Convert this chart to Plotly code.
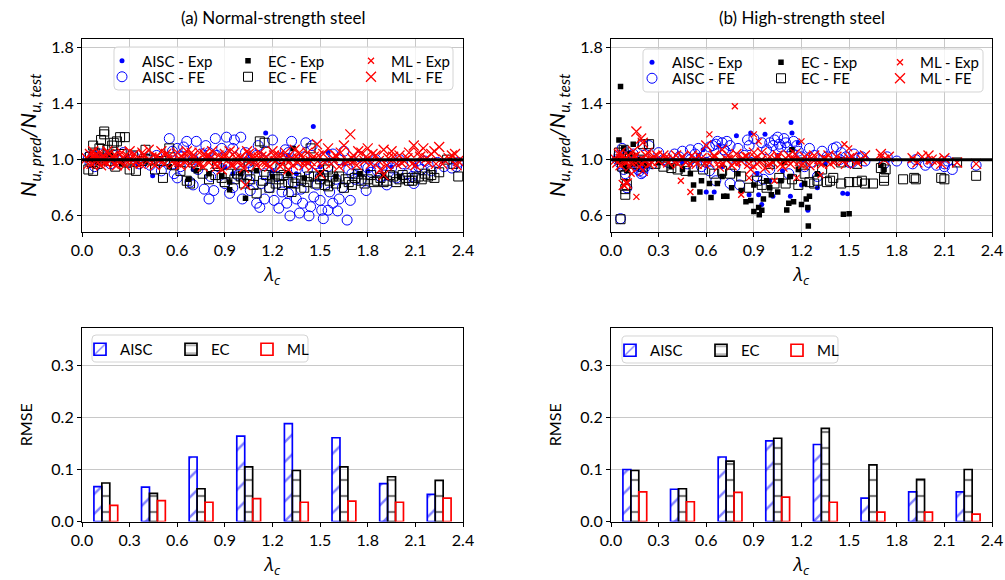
import plotly.graph_objects as go

# ---------------- DATA ----------------
# (a) Normal-strength steel: (lambda_c, Nu_pred/Nu_test)
NS_AISC_EXP = [(0.05,1.01),(0.1,0.99),(0.15,1.03),(0.2,0.98),(0.28,1.02),(0.35,0.97),(0.445,0.885),(0.5,1.0),
               (0.6,0.96),(0.7,0.93),(0.8,1.02),(0.9,0.95),(0.95,0.9),(1.05,1.04),(1.157,1.19),(1.2,0.92),
               (1.3,1.03),(1.35,0.9),(1.457,1.235),(1.5,0.95),(1.55,1.05),(1.65,0.97),(1.8,0.92),(1.95,0.95),(2.1,0.96)]
NS_AISC_FE = [(0.04,1.02),(0.05,0.98),(0.07,1.03),(0.08,0.95),(0.1,1.0),(0.12,1.04),(0.15,1.01),(0.18,0.97),(0.2,1.03),
              (0.23,1.0),(0.26,1.05),(0.3,0.98),(0.33,1.02),(0.36,0.97),(0.4,1.01),(0.43,0.96),(0.47,1.03),(0.5,0.92),
              (0.52,0.99),(0.55,1.15),(0.57,1.06),(0.58,0.9),(0.6,0.87),(0.62,0.95),(0.64,1.09),(0.66,1.13),(0.68,0.84),
              (0.7,0.82),(0.72,1.13),(0.73,0.93),(0.75,1.04),(0.77,0.79),(0.78,1.1),(0.8,0.72),(0.81,0.88),(0.83,0.78),
              (0.84,1.15),(0.86,0.95),(0.88,1.08),(0.9,0.83),(0.91,1.16),(0.93,0.76),(0.95,0.8),(0.96,1.14),(0.98,0.89),
              (1.0,1.16),(1.01,0.72),(1.03,1.05),(1.05,0.85),(1.06,0.78),(1.08,0.94),(1.1,0.69),(1.11,1.1),(1.12,0.66),
              (1.13,0.83),(1.15,0.72),(1.16,1.06),(1.18,0.8),(1.2,1.14),(1.21,0.71),(1.23,0.88),(1.24,0.655),(1.26,0.77),
              (1.28,1.07),(1.29,0.69),(1.3,0.76),(1.31,0.6),(1.32,1.13),(1.33,0.84),(1.35,0.72),(1.37,0.62),(1.38,0.79),
              (1.39,0.69),(1.41,1.12),(1.42,0.93),(1.43,0.6),(1.44,0.665),(1.45,1.1),(1.46,0.735),(1.48,0.82),(1.5,0.71),
              (1.51,0.64),(1.52,0.58),(1.53,1.02),(1.55,0.64),(1.56,0.77),(1.58,0.69),(1.6,0.86),(1.61,0.635),(1.62,0.72),
              (1.64,0.8),(1.65,1.06),(1.67,0.57),(1.69,0.71),(1.7,0.9),(1.73,0.96),(1.76,0.86),(1.79,0.78),(1.82,0.91),
              (1.85,1.0),(1.88,0.88),(1.92,0.82),(1.95,0.94),(1.98,0.87),(2.02,0.97),(2.05,0.9),(2.09,0.83),(2.12,0.95),
              (2.16,0.99),(2.2,0.92),(2.24,0.98),(2.33,0.94),(2.36,0.95),(2.37,0.98),(0.62,1.02),(0.85,1.03),(1.05,0.98),
              (1.25,1.01),(1.47,0.97),(1.58,1.04),(1.75,1.02),(1.9,0.96),(2.0,1.0),
              (0.6,1.08),(0.7,1.0),(0.8,1.05),(0.9,0.97),(0.95,1.08),(1.0,0.92),(1.1,1.03),(1.15,0.9),(1.2,0.97),
              (1.3,1.05),(1.35,0.93),(1.4,1.02),(1.5,0.88),(1.55,0.95),(1.62,1.0),(1.68,0.93),(1.72,0.86),(1.8,0.94),
              (1.86,0.92),(2.08,0.88),(2.14,0.93),(2.28,0.95)]
NS_EC_EXP = [(0.06,1.0),(0.1,0.98),(0.18,1.04),(0.25,0.97),(0.4,0.99),(0.55,0.95),(0.67,0.86),(0.72,0.92),(0.8,0.9),
             (0.88,0.88),(0.93,0.84),(0.93,0.785),(1.0,0.9),(1.03,0.725),(1.1,0.92),(1.2,0.88),(1.33,1.08),(1.3,0.9),
             (1.4,0.87),(1.5,0.9),(1.6,0.88),(1.75,0.9),(1.9,0.89),(2.0,0.88)]
NS_EC_FE = [(0.04,0.93),(0.05,1.02),(0.06,0.98),(0.07,0.92),(0.07,1.1),(0.08,1.05),(0.1,0.97),(0.11,1.08),(0.12,1.14),
            (0.13,1.0),(0.14,1.2),(0.14,1.18),(0.16,1.07),(0.17,0.99),(0.19,1.1),(0.2,1.12),(0.21,0.95),(0.22,1.13),
            (0.24,1.16),(0.25,1.04),(0.27,1.16),(0.28,0.98),(0.3,0.93),(0.32,1.03),(0.34,0.92),(0.38,0.99),(0.4,1.07),
            (0.43,1.0),(0.46,0.93),(0.5,0.99),(0.51,0.87),(0.55,1.08),(0.58,0.96),(0.62,0.92),(0.66,0.85),(0.68,0.83),
            (0.72,0.95),(0.76,0.9),(0.8,0.86),(0.84,0.89),(0.88,0.87),(0.92,0.9),(0.96,0.86),(1.0,0.88),(1.02,0.83),
            (1.06,0.86),(1.1,0.76),(1.12,1.13),(1.14,0.85),(1.15,1.12),(1.18,0.8),(1.2,0.88),(1.24,0.86),(1.27,0.89),
            (1.3,0.84),(1.32,0.77),(1.35,0.87),(1.38,0.85),(1.4,0.8),(1.43,0.88),(1.44,1.08),(1.47,0.83),(1.5,0.86),
            (1.53,0.82),(1.56,0.85),(1.6,0.83),(1.62,0.88),(1.65,0.8),(1.68,0.84),(1.72,0.87),(1.76,0.85),(1.8,0.86),
            (1.84,0.84),(1.88,0.87),(1.92,0.85),(1.96,0.88),(2.0,0.86),(2.04,0.87),(2.08,0.85),(2.12,0.88),(2.16,0.9),
            (2.2,0.89),(2.25,0.91),(2.3,1.0),(2.37,0.88),(2.34,0.97),
            (0.9,0.84),(0.98,0.9),(1.04,0.89),(1.08,0.82),(1.16,0.89),(1.22,0.83),(1.26,0.82),(1.34,0.83),(1.42,0.84),
            (1.46,0.88),(1.52,0.89),(1.55,0.81),(1.58,0.88),(1.66,0.86),(1.7,0.82),(1.74,0.9),(1.78,0.83),(1.82,0.89),
            (1.86,0.85),(1.9,0.84),(1.94,0.89),(1.98,0.84),(2.02,0.89),(2.06,0.85),(2.1,0.87),(2.14,0.86),(2.18,0.88),
            (2.22,0.87),(0.7,0.98),(0.85,0.97),(1.05,0.95),(1.25,0.94),(1.55,0.93)]
NS_ML_EXP = [(0.04,1.0),(0.07,1.03),(0.1,0.98),(0.13,1.02),(0.16,0.97),(0.2,1.01),(0.24,1.04),(0.28,0.99),(0.32,1.02),
             (0.36,0.96),(0.4,1.0),(0.45,1.03),(0.5,0.98),(0.55,1.01),(0.6,0.97),(0.65,1.04),(0.7,1.0),(0.75,0.97),
             (0.8,1.03),(0.85,0.99),(0.9,1.02),(0.95,0.96),(1.0,1.01),(1.05,0.98),(1.1,1.03),(1.15,0.97),(1.2,1.0),
             (1.25,1.04),(1.3,0.98),(1.35,1.02),(1.4,0.99),(1.45,1.01),(1.5,0.97),(1.6,1.02),(1.7,0.98),(1.8,1.0)]
NS_ML_FE = [(0.03,1.01),(0.05,1.04),(0.06,0.97),(0.08,1.03),(0.09,0.99),(0.11,1.05),(0.12,0.96),(0.14,1.02),(0.15,0.98),
            (0.17,1.04),(0.18,1.0),(0.2,0.97),(0.21,1.03),(0.23,0.99),(0.25,1.05),(0.27,0.96),(0.29,1.02),(0.31,0.98),
            (0.33,1.04),(0.35,1.0),(0.37,0.97),(0.39,1.03),(0.42,1.07),(0.44,0.98),(0.47,1.02),(0.5,1.06),(0.52,0.97),
            (0.55,1.03),(0.57,0.99),(0.6,1.05),(0.62,0.96),(0.64,1.01),(0.66,1.06),(0.68,0.97),(0.7,1.03),(0.72,0.99),
            (0.74,1.05),(0.76,0.95),(0.78,1.02),(0.8,0.98),(0.82,1.06),(0.84,0.97),(0.86,1.03),(0.88,0.93),(0.9,1.04),
            (0.92,1.0),(0.94,0.96),(0.96,1.05),(0.98,0.98),(1.0,1.02),(1.02,0.94),(1.03,0.82),(1.04,1.06),(1.06,0.99),
            (1.08,1.03),(1.1,0.96),(1.12,1.05),(1.14,0.98),(1.16,1.02),(1.18,0.95),(1.2,1.06),(1.22,0.99),(1.24,1.03),
            (1.26,0.97),(1.28,1.05),(1.3,0.93),(1.32,1.01),(1.34,1.07),(1.36,0.98),(1.38,1.03),(1.4,0.96),(1.42,1.05),
            (1.44,0.99),(1.46,1.02),(1.48,1.11),(1.5,0.9),(1.52,1.04),(1.55,1.08),(1.57,0.97),(1.6,1.03),(1.62,0.95),
            (1.65,1.1),(1.67,0.99),(1.69,1.18),(1.71,1.03),(1.73,0.96),(1.76,1.05),(1.78,0.99),(1.8,1.08),(1.82,0.97),
            (1.85,1.03),(1.88,0.93),(1.9,1.07),(1.9,0.89),(1.93,1.01),(1.95,1.06),(1.98,0.97),(2.0,1.03),(2.03,0.99),
            (2.06,1.05),(2.09,1.1),(2.1,0.96),(2.13,1.02),(2.15,1.08),(2.18,0.98),(2.2,1.04),(2.23,0.97),(2.25,1.09),
            (2.28,1.0),(2.33,1.03),(2.35,1.04),(2.37,0.99),
            (0.04,0.97),(0.07,1.06),(0.1,1.02),(0.13,0.99),(0.16,1.06),(0.19,1.02),(0.22,0.96),(0.26,1.01),(0.3,1.06),
            (0.34,0.98),(0.38,1.05),(0.41,0.99),(0.46,0.96),(0.49,1.01),(0.53,1.04),(0.58,0.97),(0.61,1.01),(0.65,0.98),
            (0.69,1.05),(0.73,0.97),(0.77,1.04),(0.81,1.01),(0.85,0.95),(0.89,1.01),(0.93,1.06),(0.97,1.01),(1.01,0.97),
            (1.05,1.04),(1.09,0.99),(1.13,1.02),(1.17,0.97),(1.21,1.03),(1.25,0.95),(1.29,1.01),(1.33,0.96),(1.37,1.05),
            (1.41,0.99),(1.45,0.95),(1.49,1.03),(1.53,0.98),(1.58,1.01),(1.63,1.05),(1.66,0.97),(1.7,1.01),(1.74,1.06),
            (1.79,1.02),(1.83,1.04),(1.87,0.99),(1.92,0.96),(1.96,1.02),(2.01,0.98),(2.05,1.01),(2.08,0.97),(2.12,1.05),
            (2.17,1.01),(2.22,1.06),(2.27,0.97),(2.31,1.01),(2.36,0.96)]

# (b) High-strength steel
HS_AISC_EXP = [(0.05,1.02),(0.08,0.97),(0.12,1.05),(0.15,0.99),(0.2,0.92),(0.3,1.0),(0.45,0.98),(0.55,1.03),(0.58,1.07),
               (0.6,0.77),(0.65,0.77),(0.68,1.1),(0.7,0.95),(0.79,1.17),(0.82,1.0),(0.87,0.75),(0.88,1.19),(0.92,0.9),
               (0.93,0.75),(0.95,0.68),(0.97,1.18),(1.0,0.85),(1.02,0.74),(1.05,1.03),(1.08,0.92),(1.13,0.74),
               (1.134,1.265),(1.14,1.19),(1.18,1.12),(1.2,0.82),(1.24,0.64),(1.24,0.655),(1.3,0.8),(1.35,0.97),
               (1.46,0.76),(1.49,0.757),(1.5,1.0)]
HS_AISC_FE = [(0.04,1.0),(0.05,1.03),(0.06,0.97),(0.07,1.08),(0.08,0.93),(0.09,0.9),(0.1,0.8),(0.1,1.02),(0.12,0.98),
              (0.14,1.04),(0.16,0.96),(0.18,0.92),(0.19,0.9),(0.2,1.1),(0.21,0.94),(0.23,1.0),(0.24,1.1),(0.26,0.97),
              (0.3,1.05),(0.33,1.0),(0.36,0.98),(0.4,1.04),(0.43,1.02),(0.45,1.06),(0.48,0.97),(0.5,1.07),(0.53,1.04),
              (0.55,1.08),(0.57,0.95),(0.6,1.05),(0.62,0.92),(0.64,1.1),(0.66,0.85),(0.67,1.13),(0.7,1.12),(0.72,1.06),
              (0.75,1.1),(0.75,0.83),(0.78,0.95),(0.8,1.08),(0.81,0.82),(0.84,1.03),(0.87,1.1),(0.9,1.15),(0.92,0.88),
              (0.95,1.12),(0.96,0.86),(0.98,1.07),(1.0,0.93),(1.02,1.1),(1.03,1.14),(1.05,1.16),(1.07,1.09),(1.09,1.15),
              (1.1,1.12),(1.12,0.9),(1.14,1.05),(1.17,1.1),(1.2,1.02),(1.22,0.95),(1.25,1.08),(1.28,1.03),(1.3,0.88),
              (1.33,1.06),(1.36,1.02),(1.4,1.08),(1.42,1.09),(1.45,1.05),(1.48,1.02),(1.5,0.98),(1.53,1.04),(1.56,1.01),
              (1.6,0.99),(1.72,0.97),(1.74,1.02),(1.8,0.99),(1.9,0.97),(1.92,1.0),(2.0,0.98),(2.05,0.96),(2.1,0.95),
              (2.12,0.99),(2.15,0.93),(2.3,0.96),(0.06,0.58),
              (0.17,0.93),(0.18,0.95),(0.2,0.91),(0.22,0.97),(0.19,0.99),(0.62,1.09),(0.66,1.11),(0.71,1.07),(0.73,1.13),
              (0.86,1.14),(1.0,1.12),(1.06,1.11),(1.11,1.09),(1.15,1.13),(1.18,1.06),(0.5,1.0),(0.6,0.98),(0.88,0.98),
              (1.26,0.98),(1.44,1.0),(1.52,0.98),(1.58,1.02),(2.1,0.97),(1.98,0.96)]
HS_EC_EXP = [(0.04,1.0),(0.05,1.14),(0.06,1.52),(0.07,0.98),(0.08,1.08),(0.09,0.95),(0.1,0.92),(0.12,1.04),(0.14,1.11),
             (0.15,0.97),(0.18,1.0),(0.22,0.96),(0.3,0.98),(0.38,0.95),(0.45,0.93),(0.5,0.9),(0.52,0.82),(0.52,0.72),
             (0.56,0.77),(0.57,0.85),(0.62,0.83),(0.63,0.73),(0.67,0.83),(0.7,0.88),(0.71,0.74),(0.73,0.74),(0.76,0.8),
             (0.8,0.9),(0.82,0.78),(0.85,0.7),(0.88,0.71),(0.9,0.63),(0.9,0.82),(0.93,0.66),(0.934,0.607),(0.95,0.64),
             (0.96,0.72),(0.98,0.85),(1.0,0.8),(1.01,0.75),(1.05,0.77),(1.07,0.85),(1.09,0.98),(1.107,0.642),(1.12,0.69),
             (1.13,0.88),(1.14,1.07),(1.15,0.7),(1.18,0.93),(1.2,0.68),(1.22,0.83),(1.23,0.72),(1.24,0.66),(1.243,0.528),
             (1.25,0.74),(1.3,0.9),(1.464,0.612),(1.5,0.615),(1.72,0.93),(1.7,0.96)]
HS_EC_FE = [(0.05,1.05),(0.06,0.576),(0.07,0.95),(0.08,1.07),(0.09,0.75),(0.09,0.79),(0.09,0.89),(0.1,0.82),(0.1,0.98),
            (0.12,1.02),(0.15,0.97),(0.18,1.0),(0.2,0.95),(0.2,1.11),(0.24,1.11),(0.28,0.97),(0.33,0.95),(0.38,0.94),
            (0.42,0.93),(0.47,0.92),(0.52,0.95),(0.58,0.93),(0.65,0.9),(0.7,0.92),(0.75,0.9),(0.82,0.88),(0.87,0.8),
            (0.92,0.85),(0.95,0.82),(0.98,0.8),(1.03,0.83),(1.06,0.87),(1.1,0.83),(1.14,0.86),(1.18,0.82),(1.22,0.9),
            (1.25,0.84),(1.28,0.83),(1.3,0.85),(1.33,0.93),(1.36,0.84),(1.38,0.85),(1.4,0.87),(1.45,0.83),(1.5,0.84),
            (1.55,0.84),(1.58,0.85),(1.6,0.83),(1.65,0.83),(1.7,0.94),(1.72,0.85),(1.72,0.87),(1.73,0.93),(1.84,0.86),
            (1.91,0.87),(1.92,0.86),(2.08,0.87),(2.1,0.86),(2.18,0.98),(2.3,0.885),(1.0,0.97),(1.2,0.98),(1.45,0.98),
            (1.55,0.97)]
HS_ML_EXP = [(0.78,1.38),(0.955,1.277),(0.62,1.18),(0.9,1.18),(0.93,1.13),(1.2,1.13),(1.47,1.11),(1.5,1.08),(0.16,0.735),
             (0.5,0.77),(0.44,0.85),(0.82,0.75),(0.87,0.87),(1.03,0.85),(1.17,0.87),(1.32,0.89),(0.08,0.82),(0.1,0.84),
             (0.13,0.9),(0.05,1.02),(0.1,0.98),(0.15,1.03),(0.2,0.97),(0.25,1.01),(0.3,0.99),(0.35,1.02),(0.4,0.98),
             (0.45,1.01),(0.5,0.97),(0.55,1.03),(0.6,0.99),(0.65,1.02),(0.7,0.96),(0.75,1.01),(0.8,0.98),(0.85,1.03),
             (0.9,0.95),(0.95,1.0),(1.0,0.97),(1.05,1.02),(1.1,0.98),(1.15,1.01),(1.2,0.96),(1.25,1.02),(1.3,0.99),
             (1.35,1.01),(1.4,0.98),(1.45,1.0),(1.55,0.99),(1.7,1.02),(1.9,1.0),(2.0,0.99),(2.1,1.01)]
HS_ML_FE = [(0.03,1.0),(0.05,1.04),(0.06,0.96),(0.07,1.02),(0.08,0.82),(0.09,0.98),(0.1,0.83),(0.11,1.03),(0.12,0.95),
            (0.14,1.06),(0.16,1.2),(0.17,0.99),(0.19,1.15),(0.2,1.12),(0.2,0.92),(0.22,1.03),(0.24,0.97),(0.27,1.02),
            (0.3,0.99),(0.33,1.03),(0.36,0.98),(0.39,1.01),(0.42,0.97),(0.45,1.02),(0.48,0.99),(0.51,1.03),(0.54,0.97),
            (0.57,1.01),(0.6,1.1),(0.62,0.98),(0.65,1.03),(0.68,0.95),(0.7,1.07),(0.73,1.0),(0.76,0.96),(0.79,1.04),
            (0.82,0.99),(0.85,1.02),(0.88,0.93),(0.9,1.05),(0.92,0.97),(0.95,1.05),(0.97,0.94),(1.0,1.02),(1.02,0.98),
            (1.05,1.03),(1.08,0.95),(1.1,1.01),(1.13,0.97),(1.16,1.04),(1.19,0.99),(1.22,1.02),(1.25,0.96),(1.28,1.03),
            (1.31,0.98),(1.34,1.01),(1.38,0.97),(1.42,1.02),(1.46,0.99),(1.5,1.01),(1.55,0.98),(1.6,1.03),(1.7,1.04),
            (1.75,1.02),(1.9,1.01),(1.93,0.98),(2.0,1.03),(2.05,0.99),(2.1,1.01),(2.18,0.98),(2.3,0.97),
            (0.04,0.98),(0.06,1.05),(0.09,1.01),(0.13,0.98),(0.15,1.02),(0.18,0.95),(0.21,0.99),(0.23,1.05),(0.26,0.98),
            (0.29,1.03),(0.35,1.0),(0.41,1.03),(0.47,0.98),(0.53,1.0),(0.59,0.97),(0.64,1.01),(0.69,0.99),(0.74,1.03),
            (0.78,0.98),(0.83,1.01),(0.87,0.97),(0.91,1.01),(0.94,0.99),(0.99,0.96),(1.04,1.0),(1.07,0.97),(1.12,1.03),
            (1.15,0.99),(1.21,0.97),(1.27,1.0),(1.33,0.97),(1.37,1.03),(1.41,0.99),(1.48,0.97),(1.52,1.02),(1.58,1.0),
            (1.72,1.0),(1.96,1.02),(2.02,1.0),(2.08,0.97)]

# RMSE bars per slenderness bin
BIN_CENTRES = [0.15, 0.45, 0.75, 1.05, 1.35, 1.65, 1.95, 2.25]
NS_RMSE_AISC = [0.067, 0.066, 0.124, 0.164, 0.188, 0.161, 0.073, 0.052]
NS_RMSE_EC = [0.074, 0.054, 0.063, 0.105, 0.098, 0.105, 0.086, 0.079]
NS_RMSE_ML = [0.031, 0.040, 0.037, 0.044, 0.037, 0.039, 0.037, 0.045]
HS_RMSE_AISC = [0.100, 0.062, 0.124, 0.155, 0.148, 0.045, 0.057, 0.057]
HS_RMSE_EC = [0.098, 0.063, 0.116, 0.160, 0.179, 0.109, 0.081, 0.100]
HS_RMSE_ML = [0.057, 0.038, 0.056, 0.047, 0.037, 0.018, 0.018, 0.014]

X_TICKS = [0.0, 0.3, 0.6, 0.9, 1.2, 1.5, 1.8, 2.1, 2.4]
Y_TICKS_TOP = [0.6, 1.0, 1.4, 1.8]
Y_TICKS_BOT = [0.0, 0.1, 0.2, 0.3]
PANEL_TITLES = ["(a) Normal-strength steel", "(b) High-strength steel"]

# ---------------- FIGURE ----------------
W, H = 1005, 580
FONT = "Lato"
def fx(p): return p / W
def fy(p): return 1 - p / H

fig = go.Figure()
legends = {}
_leg_count = [0]

def new_legend(xpx, ypx):
    _leg_count[0] += 1
    key = "legend" if _leg_count[0] == 1 else f"legend{_leg_count[0]}"
    legends[key] = dict(x=fx(xpx), y=fy(ypx), xanchor="left", yanchor="middle", orientation="h",
                        bgcolor="rgba(0,0,0,0)", borderwidth=0, visible=True,
                        font=dict(family=FONT, size=15, color="black"),
                        itemclick=False, itemdoubleclick=False)
    return key

STYLES = {
    "AISC - Exp": dict(symbol="circle", size=5, color="blue", line=dict(width=0)),
    "AISC - FE": dict(symbol="circle-open", size=10, color="blue", line=dict(width=1, color="blue")),
    "EC - Exp": dict(symbol="square", size=5.5, color="black", line=dict(width=0)),
    "EC - FE": dict(symbol="square-open", size=9, color="black", line=dict(width=1, color="black")),
    "ML - Exp": dict(symbol="x-thin", size=6, color="red", line=dict(width=1.3, color="red")),
    "ML - FE": dict(symbol="x-thin", size=10, color="red", line=dict(width=1.3, color="red")),
}
order = ["AISC - Exp", "AISC - FE", "EC - Exp", "EC - FE", "ML - Exp", "ML - FE"]
COL = {"AISC": 0, "EC": 1, "ML": 2}

# legend item anchors (px): column starts and row centres for each panel
TOP_LEG = [
    ("x", "y", {"AISC - Exp": NS_AISC_EXP, "AISC - FE": NS_AISC_FE, "EC - Exp": NS_EC_EXP,
                "EC - FE": NS_EC_FE, "ML - Exp": NS_ML_EXP, "ML - FE": NS_ML_FE},
     [102, 228, 351], [61, 77]),
    ("x2", "y2", {"AISC - Exp": HS_AISC_EXP, "AISC - FE": HS_AISC_FE, "EC - Exp": HS_EC_EXP,
                  "EC - FE": HS_EC_FE, "ML - Exp": HS_ML_EXP, "ML - FE": HS_ML_FE},
     [632, 761, 880], [62.5, 78.5]),
]
for xa, ya, series, cols, rows in TOP_LEG:
    for name in order:
        pts = series[name]
        method, kind = name.split(" - ")
        lg = new_legend(cols[COL[method]], rows[0 if kind == "Exp" else 1])
        fig.add_trace(go.Scatter(x=[p[0] for p in pts], y=[p[1] for p in pts], mode="markers", name=name,
                                 marker=STYLES[name], xaxis=xa, yaxis=ya, legend=lg, showlegend=True,
                                 hoverinfo="skip"))

BAR_STYLES = {
    "AISC": dict(color="blue", shape="/", size=14, solidity=0.17),
    "EC": dict(color="black", shape="-", size=16, solidity=0.14),
    "ML": dict(color="red", shape="", size=8, solidity=0.1),
}
OFFSETS = {"AISC": -0.075, "EC": -0.025, "ML": 0.025}
BOT_LEG = [
    ("x3", "y3", {"AISC": NS_RMSE_AISC, "EC": NS_RMSE_EC, "ML": NS_RMSE_ML}, [80, 171, 247], 349.5),
    ("x4", "y4", {"AISC": HS_RMSE_AISC, "EC": HS_RMSE_EC, "ML": HS_RMSE_ML}, [610, 701, 777], 350.5),
]
for xa, ya, data, cols, row in BOT_LEG:
    for name in ["AISC", "EC", "ML"]:
        st = BAR_STYLES[name]
        lg = new_legend(cols[COL[name]], row)
        fig.add_trace(go.Bar(
            x=BIN_CENTRES, y=data[name], name=name, width=0.05, offset=OFFSETS[name],
            xaxis=xa, yaxis=ya, legend=lg, showlegend=True, hoverinfo="skip",
            marker=dict(color="rgba(0,0,0,0)", line=dict(color=st["color"], width=1.7),
                        pattern=dict(shape=st["shape"], fgcolor=st["color"], bgcolor="rgba(0,0,0,0)",
                                     size=st["size"], solidity=st["solidity"], fillmode="overlay")),
        ))

# axes geometry (px)
XL = (82, 463)
XR = (611, 992)
YT = (38.5, 232)
YB = (328, 521.5)

axis_common = dict(showline=True, linecolor="black", linewidth=1.2, mirror=True, ticks="outside",
                   ticklen=4, tickwidth=1, tickcolor="black", zeroline=False, automargin=False,
                   tickfont=dict(family=FONT, size=16, color="black"))
xtitle = dict(text="<i>λ<sub>c</sub></i>", font=dict(family="Open Sans", size=19, color="black"), standoff=9)
ytitle_top = dict(text="<i>N<sub>u, pred</sub>/N<sub>u, test</sub></i>",
                  font=dict(family=FONT, size=22, color="black"), standoff=8)
ytitle_bot = dict(text="RMSE", font=dict(family=FONT, size=16, color="black"), standoff=14)

def xax(dom, anchor, grid):
    return dict(domain=[fx(dom[0]), fx(dom[1])], anchor=anchor, range=[0, 2.4], tickvals=X_TICKS,
                tickformat=".1f", showgrid=grid, gridcolor="#c8c8c8", gridwidth=1, title=xtitle, **axis_common)

def yax(dom, anchor, rng, ticks, title):
    return dict(domain=[fy(dom[1]), fy(dom[0])], anchor=anchor, range=rng, tickvals=ticks, tickformat=".1f",
                showgrid=True, gridcolor="#c8c8c8", gridwidth=1, title=title, **axis_common)

fig.update_layout(
    width=W, height=H, margin=dict(l=0, r=0, t=0, b=0, autoexpand=False),
    paper_bgcolor="white", plot_bgcolor="white", barmode="overlay", showlegend=True,
    font=dict(family=FONT, color="black"),
    xaxis=xax(XL, "y", True), yaxis=yax(YT, "x", [0.485, 1.862], Y_TICKS_TOP, ytitle_top),
    xaxis2=xax(XR, "y2", True), yaxis2=yax(YT, "x2", [0.485, 1.862], Y_TICKS_TOP, ytitle_top),
    xaxis3=xax(XL, "y3", False), yaxis3=yax(YB, "x3", [0, 0.372], Y_TICKS_BOT, ytitle_bot),
    xaxis4=xax(XR, "y4", False), yaxis4=yax(YB, "x4", [0, 0.372], Y_TICKS_BOT, ytitle_bot),
    **legends,
)

# legend frames (rounded)
def rrect(x0, y0, x1, y1, r=4):
    pts = [
        ("M", [(x0 + r, y0)]), ("L", [(x1 - r, y0)]), ("Q", [(x1, y0), (x1, y0 + r)]),
        ("L", [(x1, y1 - r)]), ("Q", [(x1, y1), (x1 - r, y1)]), ("L", [(x0 + r, y1)]),
        ("Q", [(x0, y1), (x0, y1 - r)]), ("L", [(x0, y0 + r)]), ("Q", [(x0, y0), (x0 + r, y0)]),
    ]
    s = ""
    for cmd, coords in pts:
        s += cmd + " " + " ".join(f"{fx(a):.5f},{fy(b):.5f}" for a, b in coords) + " "
    return s + "Z"

shapes = []
for box in [(114, 47, 453, 90), (643, 49, 983, 92), (92, 335, 308, 362), (622, 336, 838, 363)]:
    shapes.append(dict(type="path", path=rrect(*box), xref="paper", yref="paper",
                       line=dict(color="#d4d4d4", width=1), fillcolor="rgba(255,255,255,0.8)", layer="above"))
# reference line at ratio 1.0
for xr, yr in [("x domain", "y"), ("x2 domain", "y2")]:
    shapes.append(dict(type="line", xref=xr, yref=yr, x0=0, x1=1, y0=1.0, y1=1.0,
                       line=dict(color="black", width=3), layer="above"))
fig.update_layout(shapes=shapes)

# panel titles
for title, dom in zip(PANEL_TITLES, [XL, XR]):
    fig.add_annotation(text=title, x=fx((dom[0] + dom[1]) / 2), y=fy(18), xref="paper", yref="paper",
                       showarrow=False, font=dict(family=FONT, size=17, color="black"),
                       xanchor="center", yanchor="middle")

fig.write_html("out.html", config={"displayModeBar": False})
